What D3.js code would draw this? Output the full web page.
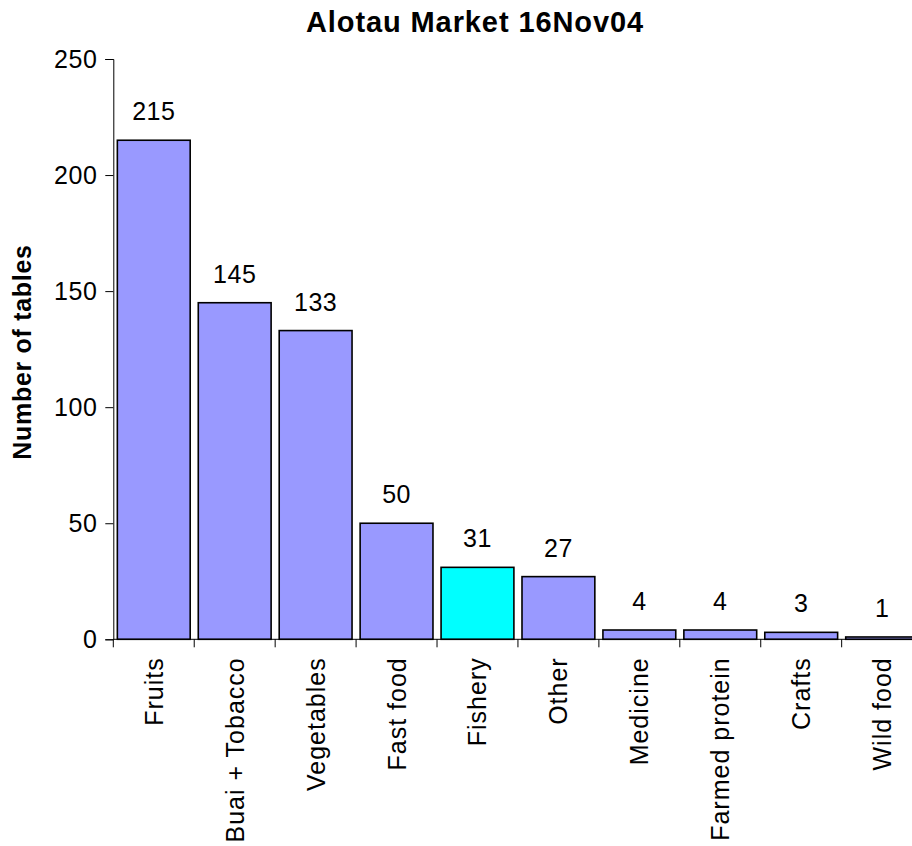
<!DOCTYPE html>
<html>
<head>
<meta charset="utf-8">
<script src="https://cdn.jsdelivr.net/npm/d3@7"></script>
<style>
  html, body { margin: 0; padding: 0; background: #fff; }
  svg { display: block; font-family: "Liberation Sans", Arial, sans-serif; }
</style>
</head>
<body>
<svg id="chart" width="912" height="846"></svg>
<script>
// Market table counts by product category
const categories = ["Fruits", "Buai + Tobacco", "Vegetables", "Fast food", "Fishery",
                    "Other", "Medicine", "Farmed protein", "Crafts", "Wild food"];
const tables = [215, 145, 133, 50, 31, 27, 4, 4, 3, 1];
const highlighted = ["Fishery"];
const yTicks = [0, 50, 100, 150, 200, 250];

const svg = d3.select("#chart");

const x = d3.scaleBand()
  .domain(categories)
  .range([113.3, 922.6])
  .paddingInner(0.1)
  .paddingOuter(0.05);

const y = d3.scaleLinear()
  .domain([0, 250])
  .range([639.3, 59]);

// Title
svg.append("text")
  .attr("x", 475)
  .attr("y", 32)
  .attr("text-anchor", "middle")
  .attr("font-size", 29)
  .attr("font-weight", "bold")
  .attr("letter-spacing", 0.9)
  .text("Alotau Market 16Nov04");

// Y axis title
svg.append("text")
  .attr("transform", "translate(31,352) rotate(-90)")
  .attr("text-anchor", "middle")
  .attr("font-size", 25)
  .attr("font-weight", "bold")
  .attr("letter-spacing", 0.7)
  .text("Number of tables");

// Bars
svg.append("g")
  .selectAll("rect")
  .data(categories.map((c, i) => ({ c, v: tables[i] })))
  .join("rect")
  .attr("x", d => x(d.c))
  .attr("y", d => y(d.v))
  .attr("width", x.bandwidth())
  .attr("height", d => y(0) - y(d.v))
  .attr("fill", d => highlighted.includes(d.c) ? "#00FFFF" : "#9999FF")
  .attr("stroke", "#000")
  .attr("stroke-width", 1.6);

// Value labels
svg.append("g")
  .selectAll("text")
  .data(categories.map((c, i) => ({ c, v: tables[i] })))
  .join("text")
  .attr("x", d => x(d.c) + x.bandwidth() / 2)
  .attr("y", d => y(d.v) - 20)
  .attr("text-anchor", "middle")
  .attr("font-size", 25)
  .attr("letter-spacing", 0.5)
  .text(d => d.v);

// Y axis
const yAxis = svg.append("g")
  .attr("transform", `translate(${x.range()[0]},0)`)
  .call(d3.axisLeft(y).tickValues(yTicks).tickSize(8).tickPadding(8));
yAxis.selectAll("text")
  .attr("font-size", 25)
  .attr("letter-spacing", 0.5)
  .attr("font-family", "Liberation Sans, Arial, sans-serif")
  .attr("fill", "#000");
yAxis.selectAll("line, path").attr("stroke", "#000").attr("stroke-width", 1);

// X axis: ticks on category boundaries
const xAxis = svg.append("g").attr("transform", `translate(0,${y(0)})`);
xAxis.append("line")
  .attr("x1", x.range()[0]).attr("x2", x.range()[1])
  .attr("stroke", "#000");
const bounds = d3.range(categories.length + 1).map(i => x.range()[0] + i * x.step());
xAxis.selectAll("line.tick")
  .data(bounds)
  .join("line")
  .attr("class", "tick")
  .attr("x1", d => d).attr("x2", d => d)
  .attr("y1", 0).attr("y2", 8)
  .attr("stroke", "#000");

// Category labels, rotated
xAxis.selectAll("text.cat")
  .data(categories)
  .join("text")
  .attr("class", "cat")
  .attr("transform", d => `translate(${x(d) + x.bandwidth() / 2 + 9},18) rotate(-90)`)
  .attr("text-anchor", "end")
  .attr("font-size", 25)
  .attr("letter-spacing", 1)
  .text(d => d);
</script>
</body>
</html>
